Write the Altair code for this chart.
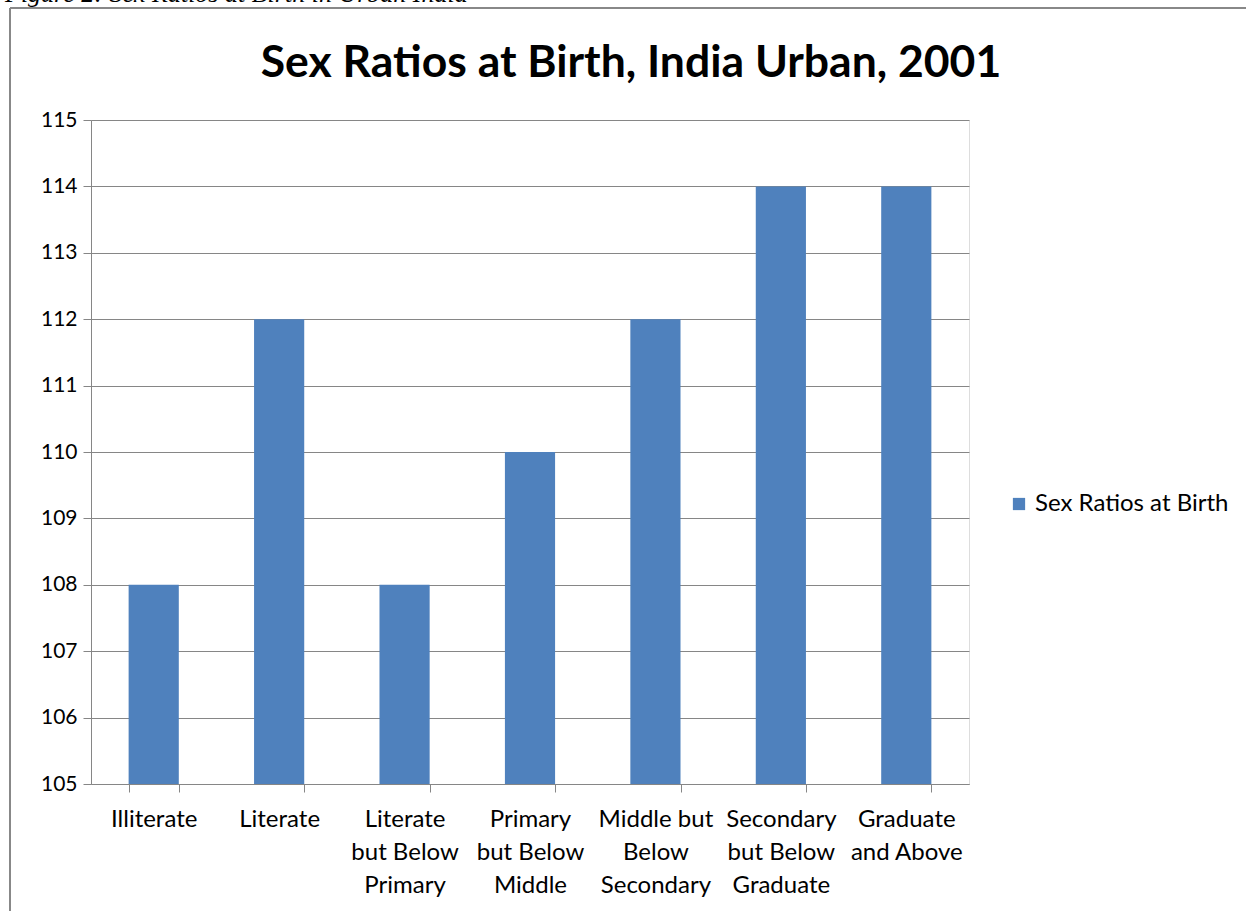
import altair as alt
import pandas as pd

categories = [
    "Illiterate",
    "Literate",
    "Literate|but Below|Primary",
    "Primary|but Below|Middle",
    "Middle but|Below|Secondary",
    "Secondary|but Below|Graduate",
    "Graduate|and Above",
]
values = [108, 112, 108, 110, 112, 114, 114]
series_name = "Sex Ratios at Birth"
y_ticks = [105, 106, 107, 108, 109, 110, 111, 112, 113, 114, 115]
y_base = 105
chart_title = "Sex Ratios at Birth, India Urban, 2001"
caption_text = "Figure 2: Sex Ratios at Birth in Urban India"

df = pd.DataFrame({"category": categories, "value": values, "series": [series_name] * len(values)})

FONT = "Lato"
GRID = "#868686"

bars = alt.Chart(df).mark_bar(color="#4F81BD").encode(
    x=alt.X(
        "category:N",
        sort=categories,
        title=None,
        scale=alt.Scale(paddingInner=0.6, paddingOuter=0.3),
        axis=alt.Axis(
            labelExpr="split(datum.label, '|')",
            labelAngle=0,
            labelFont=FONT,
            labelFontSize=24,
            labelColor="#000000",
            labelLineHeight=33,
            labelPadding=15,
            labelBaseline="top",
            labelLimit=0,
            tickBand="extent",
            tickColor=GRID,
            tickSize=8,
            domainColor=GRID,
            grid=False,
        ),
    ),
    y=alt.Y(
        "value:Q",
        title=None,
        scale=alt.Scale(domain=[105, 115], nice=False, zero=False),
        axis=alt.Axis(
            values=y_ticks,
            format="d",
            labelFont=FONT,
            labelFontSize=21,
            labelColor="#000000",
            labelPadding=6,
            tickColor=GRID,
            tickSize=8,
            domainColor=GRID,
            gridColor=GRID,
            gridOpacity=1,
        ),
    ),
    y2=alt.datum(y_base),
    color=alt.Color(
        "series:N",
        scale=alt.Scale(domain=[series_name], range=["#4F81BD"]),
        legend=alt.Legend(
            title=None,
            orient="none",
            legendX=916,
            legendY=372,
            symbolType="square",
            symbolSize=150,
            symbolStrokeWidth=0,
            labelFont=FONT,
            labelFontSize=24,
            labelLimit=0,
            labelColor="#000000",
        ),
    ),
)

frame_left = alt.Chart(df).mark_rule(color="#888888", strokeWidth=2).encode(
    x=alt.value(-81), y=alt.value(-112), y2=alt.value(800)
)
frame_top = alt.Chart(df).mark_rule(color="#888888", strokeWidth=2).encode(
    x=alt.value(-81), x2=alt.value(1200), y=alt.value(-112)
)
caption = alt.Chart(pd.DataFrame({"t": [caption_text]})).mark_text(
    font="Liberation Serif", fontStyle="italic", fontSize=26, align="left", baseline="alphabetic", color="#000000"
).encode(x=alt.value(-86), y=alt.value(-118), text="t:N")
title = alt.Chart(pd.DataFrame({"t": [chart_title]})).mark_text(
    font=FONT, fontWeight="bold", fontSize=44.5, align="center", baseline="alphabetic", color="#000000"
).encode(x=alt.value(540), y=alt.value(-43), text="t:N")

chart = alt.layer(frame_left, frame_top, caption, title, bars).properties(
    width=878,
    height=664,
    autosize=alt.AutoSizeParams(type="none"),
    padding={"left": 91, "top": 120, "right": 277, "bottom": 127},
).configure_view(stroke=None).configure(background="white")

chart.save("out.html", embed_options={"renderer": "svg", "actions": False})
